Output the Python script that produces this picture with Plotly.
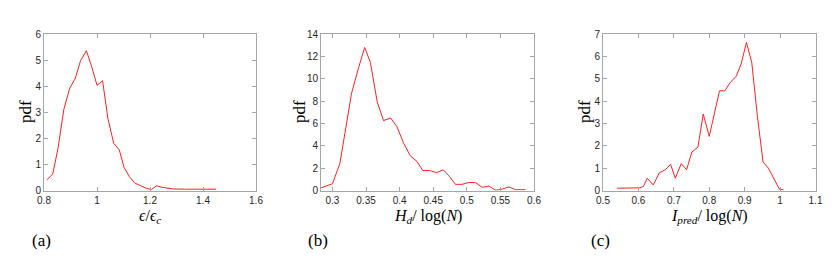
import plotly.graph_objects as go

# Panel (a): epsilon / epsilon_c
a_x = [0.811, 0.833, 0.853, 0.875, 0.897, 0.918, 0.938, 0.960, 0.980, 1.000,
       1.021, 1.041, 1.063, 1.084, 1.102, 1.122, 1.142, 1.166, 1.187, 1.206,
       1.225, 1.246, 1.288, 1.33, 1.39, 1.449]
a_y = [0.41, 0.63, 1.62, 3.12, 3.92, 4.30, 4.98, 5.36, 4.75, 4.03,
       4.21, 2.77, 1.81, 1.56, 0.89, 0.54, 0.29, 0.18, 0.08, 0.04,
       0.18, 0.12, 0.06, 0.05, 0.05, 0.05]

# Panel (b): H_d / log(N)
b_x = [0.283, 0.300, 0.311, 0.320, 0.3285, 0.339, 0.348, 0.3565, 0.3666, 0.376,
       0.3866, 0.396, 0.406, 0.416, 0.426, 0.4345, 0.445, 0.455, 0.465, 0.474,
       0.483, 0.493, 0.503, 0.513, 0.523, 0.533, 0.543, 0.5525, 0.5625, 0.5725,
       0.5875]
b_y = [0.24, 0.60, 2.38, 5.57, 8.70, 11.0, 12.8, 11.46, 7.95, 6.25,
       6.49, 5.71, 4.23, 3.10, 2.59, 1.79, 1.78, 1.60, 1.85, 1.28,
       0.55, 0.55, 0.72, 0.70, 0.28, 0.40, 0.02, 0.12, 0.32, 0.07,
       0.07]

# Panel (c): I_pred / log(N)
c_x = [0.540, 0.604, 0.614, 0.625, 0.642, 0.659, 0.676, 0.691, 0.704, 0.721,
       0.736, 0.751, 0.768, 0.783, 0.800, 0.815, 0.829, 0.844, 0.860, 0.876,
       0.890, 0.905, 0.920, 0.936, 0.952, 0.967, 0.998, 1.010]
c_y = [0.10, 0.12, 0.18, 0.55, 0.25, 0.79, 0.93, 1.17, 0.55, 1.20,
       0.93, 1.72, 1.94, 3.42, 2.42, 3.54, 4.46, 4.46, 4.85, 5.10,
       5.66, 6.62, 5.73, 3.31, 1.27, 1.00, 0.06, 0.03]

panels = [
    dict(x=a_x, y=a_y, xr=[0.8, 1.6], xt=[0.8, 1.0, 1.2, 1.4, 1.6], xl=["0.8", "1", "1.2", "1.4", "1.6"],
         yr=[0, 6], yt=[0, 1, 2, 3, 4, 5, 6], dom=[44/832, 256/832], pdfoff=19,
         title="<i>ϵ</i>/<i>ϵ</i><sub><i>c</i></sub>", tag="(a)"),
    dict(x=b_x, y=b_y, xr=[0.283, 0.6], xt=[0.3, 0.35, 0.4, 0.45, 0.5, 0.55, 0.6],
         xl=["0.3", "0.35", "0.4", "0.45", "0.5", "0.55", "0.6"],
         yr=[0, 14], yt=[0, 2, 4, 6, 8, 10, 12, 14], dom=[321/832, 534/832], pdfoff=22,
         title="<i>H</i><sub><i>d</i></sub>/ log(<i>N</i>)", tag="(b)"),
    dict(x=c_x, y=c_y, xr=[0.5, 1.1], xt=[0.5, 0.6, 0.7, 0.8, 0.9, 1.0, 1.1],
         xl=["0.5", "0.6", "0.7", "0.8", "0.9", "1", "1.1"],
         yr=[0, 7], yt=[0, 1, 2, 3, 4, 5, 6, 7], dom=[603/832, 815.5/832], pdfoff=19,
         title="<i>I</i><sub><i>pred</i></sub>/ log(<i>N</i>)", tag="(c)"),
]

fig = go.Figure()
ydom = [1 - 190.5/264, 1 - 34/264]
tickfont = dict(family="Liberation Sans", size=10, color="#262626")
serif = "Liberation Serif"
annotations = []
for i, p in enumerate(panels):
    n = "" if i == 0 else str(i + 1)
    fig.add_trace(go.Scatter(x=p["x"], y=p["y"], mode="lines",
                             line=dict(color="#ff2020", width=1),
                             xaxis="x" + n, yaxis="y" + n, showlegend=False,
                             hoverinfo="skip"))
    axcommon = dict(showgrid=False, zeroline=False, showline=True, linecolor="#a6a6a6",
                    linewidth=1, mirror="ticks", ticks="inside", ticklen=4,
                    tickcolor="#a6a6a6", tickfont=tickfont, automargin=False)
    fig.layout["xaxis" + n] = dict(domain=p["dom"], range=p["xr"], tickvals=p["xt"],
                                   ticktext=p["xl"], anchor="y" + n, **axcommon)
    fig.layout["yaxis" + n] = dict(domain=ydom, range=p["yr"], tickvals=p["yt"],
                                   anchor="x" + n, **axcommon)
    cx = (p["dom"][0] + p["dom"][1]) / 2
    annotations.append(dict(text=p["title"], x=cx, y=1 - 216/264, xref="paper", yref="paper",
                            showarrow=False, font=dict(family=serif, size=16, color="#000"),
                            xanchor="center", yanchor="middle"))
    annotations.append(dict(text="pdf", x=p["dom"][0] - p["pdfoff"]/832, y=1 - 112/264,
                            xref="paper", yref="paper", showarrow=False, textangle=-90,
                            font=dict(family=serif, size=17, color="#000"),
                            xanchor="center", yanchor="middle"))
    annotations.append(dict(text=p["tag"], x=p["dom"][0] - 3/832, y=1 - 240/264,
                            xref="paper", yref="paper", showarrow=False,
                            font=dict(family=serif, size=17, color="#000"),
                            xanchor="center", yanchor="middle"))

fig.update_layout(width=832, height=264, margin=dict(l=0, r=0, t=0, b=0, autoexpand=False),
                  paper_bgcolor="white", plot_bgcolor="white", annotations=annotations)
fig.write_html("out.html", config={"displayModeBar": False},
               post_script="document.body.style.margin='0';")
